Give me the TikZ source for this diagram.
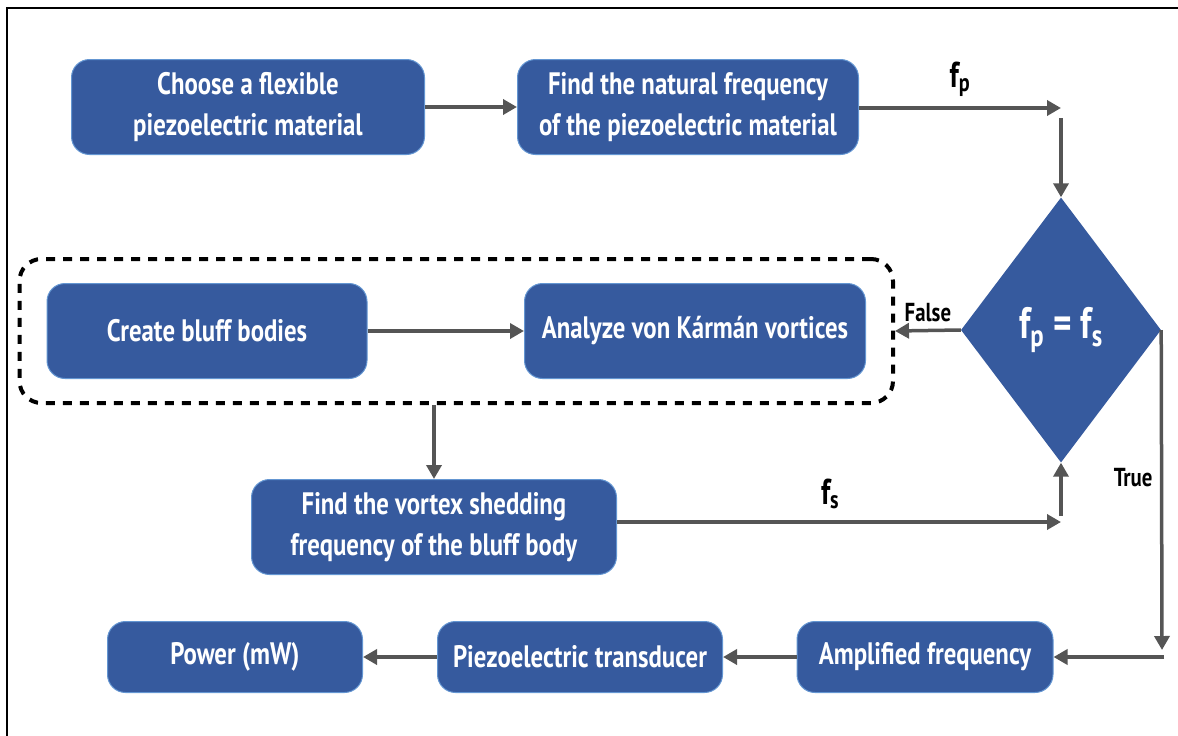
\documentclass[tikz,border=0pt]{standalone}
\usepackage{fontspec}
\setmainfont[FakeStretch=0.8]{PT Sans}
\usetikzlibrary{arrows.meta, shapes.geometric, positioning, fit}
\definecolor{boxblue}{RGB}{54,90,158}
\definecolor{boxedge}{RGB}{100,150,210}
\definecolor{arrowgray}{RGB}{85,85,85}

\begin{document}
\begin{tikzpicture}[x=1pt, y=-1pt,
        block/.style={rectangle, rounded corners=18pt, fill=boxblue, draw=boxedge, line width=1pt, text=white, align=center, inner sep=0pt, font=\fontsize{31}{41}\selectfont\bfseries},
        decision/.style={diamond, fill=boxblue, text=white, inner sep=0pt, minimum width=200pt, minimum height=265pt, font=\fontsize{44}{48}\selectfont\bfseries},
        group/.style={draw=black, line width=4pt, dash pattern=on 9pt off 8pt, rounded corners=22pt, inner xsep=27pt, inner ysep=24pt},
        flow/.style={draw=arrowgray, line width=3.5pt, -{Triangle[length=14pt, width=15pt]}},
        tag/.style={font=\fontsize{26}{30}\selectfont\bfseries},
        freq/.style={font=\fontsize{36}{40}\selectfont\bfseries}]
    \useasboundingbox (0,0) rectangle (1178,736);
    \draw[line width=2pt] (7,736) -- (7,8) -- (1178,8);

    \node[block, minimum width=353pt, minimum height=95pt] (choose) at (248, 107) {Choose a flexible\\piezoelectric material};
    \node[block, minimum width=341pt, minimum height=95pt] (natural) at (688, 107) {Find the natural frequency\\of the piezoelectric material};
    \node[decision] (decide) at (1061, 330) {f\textsubscript{p} = f\textsubscript{s}};
    \node[block, minimum width=320pt, minimum height=95pt] (create) at (207, 331) {Create bluff bodies};
    \node[block, minimum width=341pt, minimum height=95pt] (analyze) at (695, 331) {Analyze von Kármán vortices};
    \node[group, fit=(create)(analyze)] (cluster) {};
    \node[block, minimum width=365pt, minimum height=95pt] (vortex) at (434, 527) {Find the vortex shedding\\frequency of the bluff body};
    \node[block, minimum width=256pt, minimum height=71pt] (amplified) at (925, 657) {Amplified frequency};
    \node[block, minimum width=285pt, minimum height=71pt] (transducer) at (580, 657) {Piezoelectric transducer};
    \node[block, minimum width=255pt, minimum height=71pt] (power) at (235, 657) {Power (mW)};

    \coordinate (fpend) at (1061, 108);
    \coordinate (fptop) at (1061, 118);
    \coordinate (fsend) at (1061, 522);
    \coordinate (fsup) at (1061, 516);
    \coordinate (truedown) at (1162, 650);
    \coordinate (truecorner) at (1164, 657);

    \draw[flow] (choose) -- (natural);
    \draw[flow] (natural.east |- fpend) -- node[freq, above=6pt] {f\textsubscript{p}} (fpend);
    \draw[flow] (fptop) -- (decide.north);
    \draw[flow] (create) -- (analyze);
    \draw[flow] (decide.west) -- node[tag, above=4pt] {False} (cluster.east);
    \draw[flow] (cluster.south -| vortex.north) -- (vortex.north);
    \draw[flow] (vortex.east |- fsend) -- node[freq, above=8pt, pos=0.48] {f\textsubscript{s}} (fsend);
    \draw[flow] (fsup) -- (decide.south);
    \draw[flow] (decide.east) -- node[tag, left=4pt, pos=0.46] {True} (truedown);
    \draw[flow] (truecorner) -- (amplified.east);
    \draw[flow] (amplified) -- (transducer);
    \draw[flow] (transducer) -- (power);
\end{tikzpicture}
\end{document}
